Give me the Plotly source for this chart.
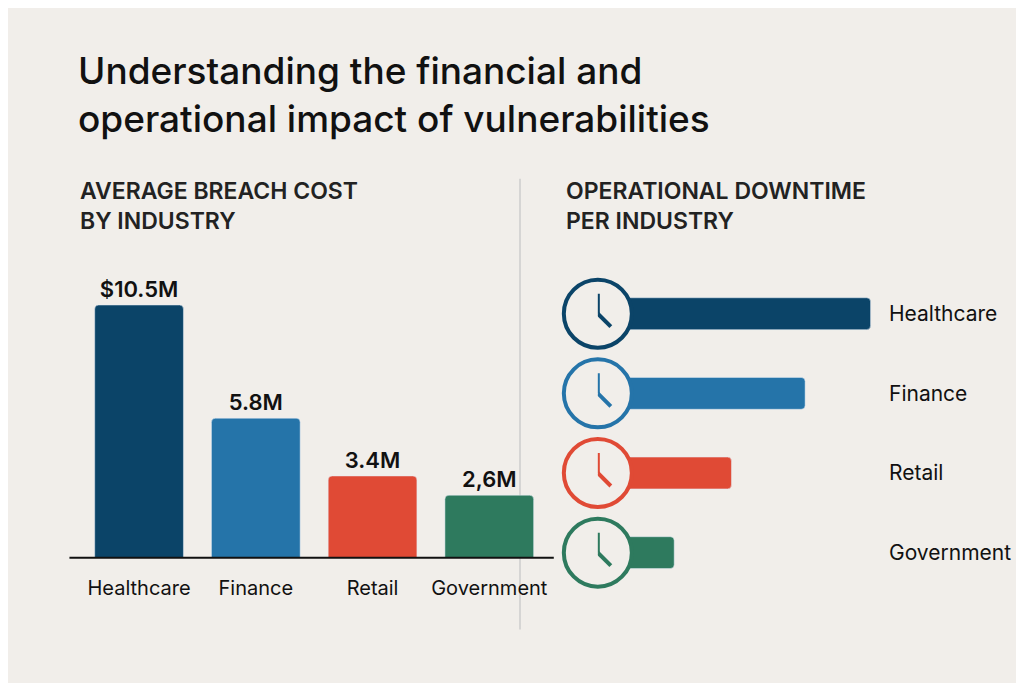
import plotly.graph_objects as go

industries = ["Healthcare", "Finance", "Retail", "Government"]
breach_cost = [10.5, 5.8, 3.4, 2.6]
cost_labels = ["$10.5M", "5.8M", "3.4M", "2,6M"]
downtime = [100, 76, 49, 28]
colors = ["#0b4468", "#2574a9", "#e04a35", "#2e7a5e"]
bg = "#f1eeea"

fig = go.Figure()
fig.add_trace(go.Bar(x=industries, y=breach_cost, marker_color=colors, text=cost_labels,
                     textposition="outside", cliponaxis=False,
                     textfont=dict(size=22, color="#111", family="Inter", weight=600),
                     xaxis="x", yaxis="y"))
fig.add_trace(go.Bar(x=downtime, y=industries, orientation="h", marker_color=colors, width=0.4,
                     xaxis="x2", yaxis="y2"))
fig.add_trace(go.Scatter(x=[0] * 4, y=industries, mode="markers", xaxis="x2", yaxis="y2",
                         cliponaxis=False,
                         marker=dict(size=68, color=bg, line=dict(width=4, color=colors))))

for i, (name, c) in enumerate(zip(industries, colors)):
    for dx, dy in [(0, 20), (13, -13)]:
        fig.add_shape(type="line", xref="x2", yref="y2", xsizemode="pixel", ysizemode="pixel",
                      xanchor=0, yanchor=name, x0=0, y0=0, x1=dx, y1=dy,
                      line=dict(color=c, width=4))
    fig.add_annotation(xref="paper", yref="y2", x=0.858, y=name, text=name, showarrow=False,
                       xanchor="left", font=dict(size=21, color="#111"))

fig.add_shape(type="line", xref="paper", yref="paper", x0=0.06, x1=0.533, y0=0.195, y1=0.195,
              line=dict(color="#111", width=2))
fig.add_shape(type="line", xref="paper", yref="paper", x0=0.5, x1=0.5, y0=0.09, y1=0.75,
              layer="below", line=dict(color="#ccc", width=1.5))

fig.add_annotation(xref="paper", yref="paper", x=0.066, y=0.945, xanchor="left", yanchor="top",
                   align="left", showarrow=False,
                   text="Understanding the financial and<br>operational impact of vulnerabilities",
                   font=dict(size=37, color="#111", family="Inter", weight=500))
fig.add_annotation(xref="paper", yref="paper", x=0.068, y=0.755, xanchor="left", yanchor="top",
                   align="left", showarrow=False, text="AVERAGE BREACH COST<br>BY INDUSTRY",
                   font=dict(size=23, color="#222", family="Inter", weight=600))
fig.add_annotation(xref="paper", yref="paper", x=0.543, y=0.755, xanchor="left", yanchor="top",
                   align="left", showarrow=False, text="OPERATIONAL DOWNTIME<br>PER INDUSTRY",
                   font=dict(size=23, color="#222", family="Inter", weight=600))

fig.update_layout(
    width=1024, height=683, margin=dict(l=0, r=0, t=0, b=0),
    paper_bgcolor=bg, plot_bgcolor=bg, showlegend=False,
    font=dict(family="Inter", color="#111"),
    bargap=0.24, barcornerradius=4,
    xaxis=dict(domain=[0.071, 0.527], showgrid=False, zeroline=False, showline=False,
               ticks="outside", ticklen=12, tickcolor="rgba(0,0,0,0)",
               tickfont=dict(size=20, color="#111")),
    yaxis=dict(domain=[0.195, 0.618], range=[0, 12], visible=False),
    xaxis2=dict(domain=[0.576, 0.869], range=[0, 110], visible=False, anchor="y2"),
    yaxis2=dict(domain=[0.114, 0.641], autorange="reversed", visible=False, anchor="x2"),
)
fig.write_html("out.html")
